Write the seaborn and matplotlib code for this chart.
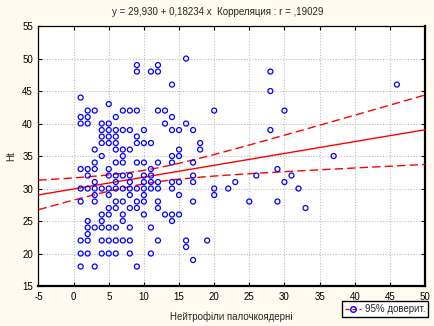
import numpy as np
import pandas as pd
import matplotlib
matplotlib.use("Agg")
import matplotlib.pyplot as plt
from matplotlib.lines import Line2D
import seaborn as sns

# ---- data: Ht value -> list of neutrophil counts ----
rows = {
    50: [16],
    49: [9, 12],
    48: [9, 11, 12, 28],
    46: [14, 46],
    45: [28],
    44: [1],
    43: [5],
    42: [2, 3, 7, 8, 9, 12, 13, 20, 30],
    41: [1, 2, 6, 14],
    40: [1, 2, 4, 5, 13, 16],
    39: [4, 5, 6, 7, 8, 10, 14, 15, 17, 28],
    38: [4, 5, 6, 9],
    37: [4, 5, 6, 9, 10, 11, 18],
    36: [3, 6, 7, 8, 15, 18],
    35: [4, 7, 14, 15, 37],
    34: [3, 6, 7, 9, 10, 12, 14, 17],
    33: [1, 2, 3, 5, 11, 29],
    32: [2, 5, 6, 7, 8, 10, 11, 17, 26, 31],
    31: [3, 6, 8, 10, 11, 12, 14, 15, 17, 23, 30],
    30: [1, 2, 3, 4, 5, 6, 7, 8, 9, 10, 11, 12, 14, 20, 22, 32],
    29: [3, 5, 8, 10, 15, 20],
    28: [1, 3, 6, 7, 9, 10, 12, 17, 25, 29],
    27: [5, 6, 8, 9, 12, 33],
    26: [4, 5, 7, 10, 13, 14, 15],
    25: [2, 4, 7, 14],
    24: [2, 3, 4, 5, 6, 8, 11],
    23: [2],
    22: [1, 2, 4, 5, 6, 7, 8, 12, 16, 19],
    21: [16],
    20: [1, 2, 4, 5, 6, 8, 11],
    19: [17],
    18: [1, 3, 9],
}
neutrophils = [x for ht, xs in rows.items() for x in xs]
ht = [ht for ht, xs in rows.items() for _ in xs]

intercept = 29.930
slope = 0.18234
r_value = ",19029"

x_ticks = list(range(-5, 51, 5))
y_ticks = list(range(15, 56, 5))

title_text = f"y = 29,930 + 0,18234 x  Корреляция : r = {r_value}"
x_label = "Нейтрофіли палочкоядерні"
y_label = "Ht"
legend_label = "95% доверит."

df = pd.DataFrame({"x": neutrophils, "y": ht})

# ---- figure ----
sns.set_style("white")
plt.rcParams["font.family"] = ["Liberation Sans", "DejaVu Sans"]
bg = "#FFFBF0"
fig = plt.figure(figsize=(4.35, 3.26), dpi=100, facecolor=bg)
ax = fig.add_axes([0.0885, 0.1227, 0.8885, 0.7973])
ax.set_facecolor("white")

# fit line and 95% confidence band
xs = np.asarray(neutrophils, float)
ys = np.asarray(ht, float)
n = len(xs)
xbar = xs.mean()
sxx = ((xs - xbar) ** 2).sum()
resid = ys - (intercept + slope * xs)
s = np.sqrt((resid ** 2).sum() / (n - 2))
tval = 1.90
grid = np.linspace(-5, 50, 200)
fit = intercept + slope * grid
half = tval * s * np.sqrt(1.0 / n + (grid - xbar) ** 2 / sxx)

ax.plot(grid, fit, color="red", lw=1.0, zorder=3)
ax.plot(grid, fit + half, color="red", lw=1.0, ls=(0, (6, 3)), zorder=3)
ax.plot(grid, fit - half, color="red", lw=1.0, ls=(0, (6, 3)), zorder=3)

sns.scatterplot(data=df, x="x", y="y", ax=ax, marker="o", s=13,
                facecolor="none", edgecolor="#0000FF", linewidth=0.9, zorder=4)

ax.set_xlim(-5, 50)
ax.set_ylim(15, 55)
ax.set_xticks(x_ticks)
ax.set_yticks(y_ticks)
ax.set_xticklabels([str(v) for v in x_ticks], fontsize=7)
ax.set_yticklabels([str(v) for v in y_ticks], fontsize=7)
ax.grid(True, color="#bdbdbd", ls=(0, (1, 1.5)), lw=0.8)
ax.tick_params(direction="in", length=3, width=0.8, top=True, right=True,
               bottom=True, left=True, pad=4, colors="black")
for side in ["left", "top"]:
    ax.spines[side].set_linewidth(0.9)
for side in ["right", "bottom"]:
    ax.spines[side].set_linewidth(1.6)
for sp in ax.spines.values():
    sp.set_color("black")

ax.set_xlabel(x_label, fontsize=7, labelpad=7)
ax.set_ylabel(y_label, fontsize=7, labelpad=4)
fig.text(0.5, 0.962, title_text, fontsize=7, ha="center", va="center")

handle = Line2D([0], [0], color="red", ls=(0, (3, 2)), lw=1.0, marker="o",
                markerfacecolor="none", markeredgecolor="#0000FF", markersize=4)
leg = fig.legend([handle], [legend_label], loc="lower right",
                 bbox_to_anchor=(0.995, 0.012), fontsize=7, frameon=True,
                 fancybox=False, edgecolor="black", framealpha=1,
                 handlelength=1.6, borderpad=0.3, handletextpad=0.4)
leg.get_frame().set_linewidth(1.0)

fig.savefig("out.png", dpi=100, facecolor=bg)
